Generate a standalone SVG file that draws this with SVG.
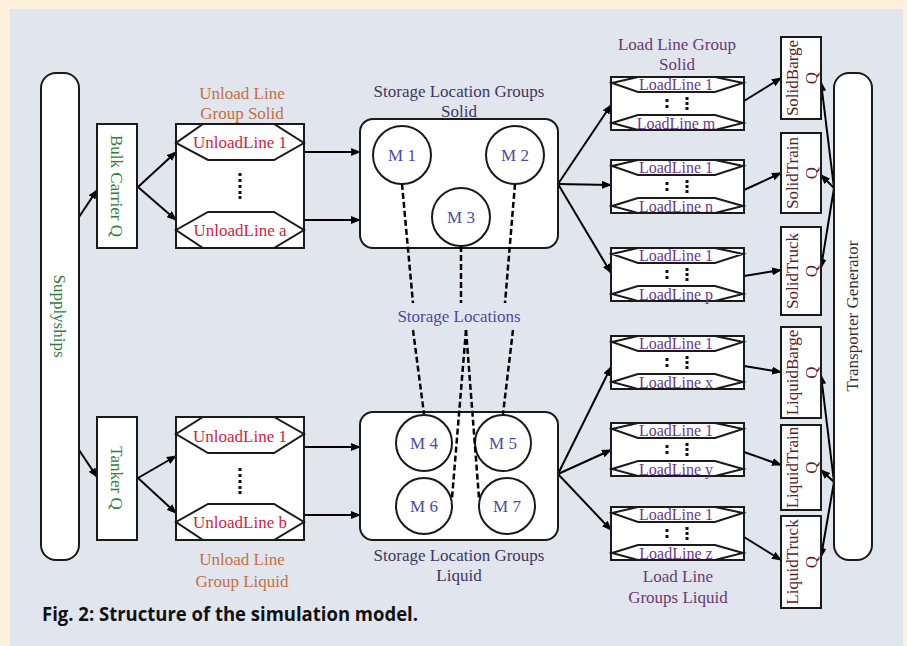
<svg xmlns="http://www.w3.org/2000/svg" width="907" height="646" viewBox="0 0 907 646">
<defs>
<marker id="arr" markerUnits="userSpaceOnUse" markerWidth="10" markerHeight="8" refX="9" refY="4" orient="auto">
<path d="M0,0 L10,4 L0,8 z" fill="#000"/>
</marker>
<style>
text{font-family:"Liberation Serif","Times New Roman",serif;font-size:17px}
.box{fill:#fff;stroke:#1a1a1a;stroke-width:2}
.hex{fill:none;stroke:#1a1a1a;stroke-width:2}
.con{fill:none;stroke:#000;stroke-width:2;marker-end:url(#arr)}
.dash{fill:none;stroke:#000;stroke-width:2.5;stroke-dasharray:6 3}
.green{fill:#2f7d3b}
.orange{fill:#c4703f}
.red{fill:#d01f3c}
.slate{fill:#3d3662}
.mid{fill:#4d4a9e}
.lpurple{fill:#6a3a8c;font-size:16px}
.purple{fill:#6b3a70}
.maroon{fill:#5a2323}
.dark{fill:#333}
.dot{fill:#111}
</style>
</defs>
<rect x="0" y="0" width="907" height="646" fill="#fdf1dc"/>
<rect x="10" y="9" width="893" height="640" fill="#e1e6ee"/>

<g id="connectors">
<line class="con" x1="79" y1="217" x2="97" y2="190"/>
<line class="con" x1="79" y1="450" x2="97" y2="477"/>
<line class="con" x1="138" y1="187" x2="176" y2="152"/>
<line class="con" x1="138" y1="187" x2="176" y2="220"/>
<line class="con" x1="138" y1="478" x2="176" y2="456"/>
<line class="con" x1="138" y1="478" x2="176" y2="513"/>
<line class="con" x1="304" y1="152" x2="360" y2="152"/>
<line class="con" x1="304" y1="220" x2="360" y2="220"/>
<line class="con" x1="304" y1="447" x2="360" y2="447"/>
<line class="con" x1="304" y1="515" x2="360" y2="515"/>
<line class="con" x1="558" y1="184" x2="611" y2="105"/>
<line class="con" x1="558" y1="184" x2="611" y2="185"/>
<line class="con" x1="558" y1="184" x2="611" y2="273"/>
<line class="con" x1="558" y1="474" x2="611" y2="367"/>
<line class="con" x1="558" y1="474" x2="611" y2="450"/>
<line class="con" x1="558" y1="474" x2="611" y2="530"/>
<line class="con" x1="744" y1="101" x2="781" y2="78"/>
<line class="con" x1="744" y1="190" x2="781" y2="173"/>
<line class="con" x1="744" y1="276" x2="781" y2="270"/>
<line class="con" x1="744" y1="366" x2="781" y2="372"/>
<line class="con" x1="744" y1="452" x2="781" y2="465"/>
<line class="con" x1="744" y1="537" x2="781" y2="560"/>
<line class="con" x1="834" y1="188" x2="821" y2="82"/>
<line class="con" x1="834" y1="188" x2="821" y2="175"/>
<line class="con" x1="834" y1="188" x2="821" y2="268"/>
<line class="con" x1="834" y1="482" x2="821" y2="375"/>
<line class="con" x1="834" y1="482" x2="821" y2="470"/>
<line class="con" x1="834" y1="482" x2="821" y2="557"/>
</g>

<g id="supplyships">
<rect class="box" x="41" y="73" width="38" height="487" rx="15"/>
<text class="green" transform="translate(60,316) rotate(90)" text-anchor="middle" y="6">Supplyships</text>
</g>

<g id="bulk-carrier-q">
<rect class="box" x="97" y="124" width="40" height="124"/>
<text class="green" transform="translate(117,186) rotate(90)" text-anchor="middle" y="6">Bulk Carrier Q</text>
</g>

<g id="tanker-q">
<rect class="box" x="97" y="417" width="40" height="123"/>
<text class="green" transform="translate(117,478) rotate(90)" text-anchor="middle" y="6">Tanker Q</text>
</g>

<g id="unload-solid">
<text class="orange" x="242" y="99" text-anchor="middle">Unload Line</text>
<text class="orange" x="242" y="119" text-anchor="middle">Group Solid</text>
<rect class="box" x="176" y="124" width="128" height="124"/>
<polygon class="hex" points="203,124 274,124 304,143 274,160 208,160 176,143"/>
<polygon class="hex" points="208,212 274,212 304,230 274,248 203,248 176,230"/>
<text class="red" x="240" y="148" text-anchor="middle">UnloadLine 1</text>
<text class="red" x="240" y="236" text-anchor="middle">UnloadLine a</text>
<g class="dot"><rect x="238.5" y="173" width="3" height="3"/><rect x="238.5" y="179" width="3" height="3"/><rect x="238.5" y="185" width="3" height="3"/><rect x="238.5" y="191" width="3" height="3"/><rect x="238.5" y="196" width="3" height="3"/></g>
</g>

<g id="unload-liquid">
<rect class="box" x="176" y="417" width="128" height="123"/>
<polygon class="hex" points="203,417 274,417 304,434 274,453 208,453 176,434"/>
<polygon class="hex" points="208,504 274,504 304,522 274,540 203,540 176,522"/>
<text class="red" x="240" y="442" text-anchor="middle">UnloadLine 1</text>
<text class="red" x="240" y="528" text-anchor="middle">UnloadLine b</text>
<g class="dot"><rect x="238.5" y="468" width="3" height="3"/><rect x="238.5" y="474" width="3" height="3"/><rect x="238.5" y="480" width="3" height="3"/><rect x="238.5" y="486" width="3" height="3"/><rect x="238.5" y="491" width="3" height="3"/></g>
<text class="orange" x="242" y="565" text-anchor="middle">Unload Line</text>
<text class="orange" x="242" y="587" text-anchor="middle">Group Liquid</text>
</g>

<g id="storage-solid">
<text class="slate" x="459" y="97" text-anchor="middle">Storage Location Groups</text>
<text class="slate" x="459" y="117" text-anchor="middle">Solid</text>
<rect class="box" x="360" y="119" width="198" height="129" rx="13"/>
<circle class="box" cx="402" cy="155" r="29"/>
<circle class="box" cx="515" cy="155" r="29"/>
<circle class="box" cx="461" cy="217" r="29"/>
<text class="mid" x="402" y="161" text-anchor="middle">M 1</text>
<text class="mid" x="515" y="161" text-anchor="middle">M 2</text>
<text class="mid" x="461" y="223" text-anchor="middle">M 3</text>
</g>

<g id="storage-liquid">
<rect class="box" x="360" y="412" width="198" height="128" rx="13"/>
<circle class="box" cx="424" cy="443" r="28"/>
<circle class="box" cx="503" cy="443" r="28"/>
<circle class="box" cx="424" cy="506" r="28"/>
<circle class="box" cx="507" cy="506" r="28"/>
<text class="mid" x="424" y="449" text-anchor="middle">M 4</text>
<text class="mid" x="503" y="449" text-anchor="middle">M 5</text>
<text class="mid" x="424" y="512" text-anchor="middle">M 6</text>
<text class="mid" x="507" y="512" text-anchor="middle">M 7</text>
<text class="slate" x="459" y="561" text-anchor="middle">Storage Location Groups</text>
<text class="slate" x="459" y="581" text-anchor="middle">Liquid</text>
</g>

<g id="storage-locations">
<line class="dash" x1="402" y1="184" x2="413" y2="303"/>
<line class="dash" x1="413" y1="330" x2="424" y2="414"/>
<line class="dash" x1="461" y1="246" x2="461" y2="303"/>
<line class="dash" x1="466" y1="330" x2="452" y2="498"/>
<line class="dash" x1="466" y1="330" x2="479" y2="498"/>
<line class="dash" x1="515" y1="184" x2="505" y2="303"/>
<line class="dash" x1="513" y1="330" x2="503" y2="414"/>
<text class="mid" x="459" y="322" text-anchor="middle">Storage Locations</text>
</g>

<g id="loadline-group-labels">
<text class="purple" x="677" y="50" text-anchor="middle">Load Line Group</text>
<text class="purple" x="677" y="70" text-anchor="middle">Solid</text>
<text class="purple" x="678" y="582" text-anchor="middle">Load Line</text>
<text class="purple" x="678" y="603" text-anchor="middle">Groups Liquid</text>
</g>

<g id="loadline-m" transform="translate(0,77)">
<rect class="box" x="611" y="0" width="133" height="53"/>
<polygon class="hex" points="638,0 715,0 743,6 715,15 638,15 612,6"/>
<polygon class="hex" points="638,38 715,38 743,46 715,53 638,53 612,46"/>
<text class="lpurple" x="676" y="13" text-anchor="middle">LoadLine 1</text>
<text class="lpurple" x="676" y="52" text-anchor="middle">LoadLine m</text>
<g class="dot"><rect x="665.5" y="22" width="3" height="3"/><rect x="665.5" y="28" width="3" height="3"/><rect x="685.5" y="20" width="3" height="3"/><rect x="685.5" y="25" width="3" height="3"/><rect x="685.5" y="30" width="3" height="3"/></g>
</g>

<g id="loadline-n" transform="translate(0,160)">
<rect class="box" x="611" y="0" width="133" height="53"/>
<polygon class="hex" points="638,0 715,0 743,6 715,15 638,15 612,6"/>
<polygon class="hex" points="638,38 715,38 743,46 715,53 638,53 612,46"/>
<text class="lpurple" x="676" y="13" text-anchor="middle">LoadLine 1</text>
<text class="lpurple" x="676" y="52" text-anchor="middle">LoadLine n</text>
<g class="dot"><rect x="665.5" y="22" width="3" height="3"/><rect x="665.5" y="28" width="3" height="3"/><rect x="685.5" y="20" width="3" height="3"/><rect x="685.5" y="25" width="3" height="3"/><rect x="685.5" y="30" width="3" height="3"/></g>
</g>

<g id="loadline-p" transform="translate(0,248)">
<rect class="box" x="611" y="0" width="133" height="53"/>
<polygon class="hex" points="638,0 715,0 743,6 715,15 638,15 612,6"/>
<polygon class="hex" points="638,38 715,38 743,46 715,53 638,53 612,46"/>
<text class="lpurple" x="676" y="13" text-anchor="middle">LoadLine 1</text>
<text class="lpurple" x="676" y="52" text-anchor="middle">LoadLine p</text>
<g class="dot"><rect x="665.5" y="22" width="3" height="3"/><rect x="665.5" y="28" width="3" height="3"/><rect x="685.5" y="20" width="3" height="3"/><rect x="685.5" y="25" width="3" height="3"/><rect x="685.5" y="30" width="3" height="3"/></g>
</g>

<g id="loadline-x" transform="translate(0,336)">
<rect class="box" x="611" y="0" width="133" height="53"/>
<polygon class="hex" points="638,0 715,0 743,6 715,15 638,15 612,6"/>
<polygon class="hex" points="638,38 715,38 743,46 715,53 638,53 612,46"/>
<text class="lpurple" x="676" y="13" text-anchor="middle">LoadLine 1</text>
<text class="lpurple" x="676" y="52" text-anchor="middle">LoadLine x</text>
<g class="dot"><rect x="665.5" y="22" width="3" height="3"/><rect x="665.5" y="28" width="3" height="3"/><rect x="685.5" y="20" width="3" height="3"/><rect x="685.5" y="25" width="3" height="3"/><rect x="685.5" y="30" width="3" height="3"/></g>
</g>

<g id="loadline-y" transform="translate(0,423)">
<rect class="box" x="611" y="0" width="133" height="53"/>
<polygon class="hex" points="638,0 715,0 743,6 715,15 638,15 612,6"/>
<polygon class="hex" points="638,38 715,38 743,46 715,53 638,53 612,46"/>
<text class="lpurple" x="676" y="13" text-anchor="middle">LoadLine 1</text>
<text class="lpurple" x="676" y="52" text-anchor="middle">LoadLine y</text>
<g class="dot"><rect x="665.5" y="22" width="3" height="3"/><rect x="665.5" y="28" width="3" height="3"/><rect x="685.5" y="20" width="3" height="3"/><rect x="685.5" y="25" width="3" height="3"/><rect x="685.5" y="30" width="3" height="3"/></g>
</g>

<g id="loadline-z" transform="translate(0,507)">
<rect class="box" x="611" y="0" width="133" height="53"/>
<polygon class="hex" points="638,0 715,0 743,6 715,15 638,15 612,6"/>
<polygon class="hex" points="638,38 715,38 743,46 715,53 638,53 612,46"/>
<text class="lpurple" x="676" y="13" text-anchor="middle">LoadLine 1</text>
<text class="lpurple" x="676" y="52" text-anchor="middle">LoadLine z</text>
<g class="dot"><rect x="665.5" y="22" width="3" height="3"/><rect x="665.5" y="28" width="3" height="3"/><rect x="685.5" y="20" width="3" height="3"/><rect x="685.5" y="25" width="3" height="3"/><rect x="685.5" y="30" width="3" height="3"/></g>
</g>

<g id="solidbarge-q">
<rect class="box" x="781" y="37" width="40" height="82"/>
<text class="maroon" transform="translate(801,78) rotate(-90)" text-anchor="middle"><tspan x="0" y="-3">SolidBarge</tspan><tspan x="0" y="16">Q</tspan></text>
</g>
<g id="solidtrain-q">
<rect class="box" x="781" y="133" width="40" height="80"/>
<text class="maroon" transform="translate(801,173) rotate(-90)" text-anchor="middle"><tspan x="0" y="-3">SolidTrain</tspan><tspan x="0" y="16">Q</tspan></text>
</g>
<g id="solidtruck-q">
<rect class="box" x="781" y="227" width="40" height="88"/>
<text class="maroon" transform="translate(801,271) rotate(-90)" text-anchor="middle"><tspan x="0" y="-3">SolidTruck</tspan><tspan x="0" y="16">Q</tspan></text>
</g>
<g id="liquidbarge-q">
<rect class="box" x="781" y="327" width="40" height="91"/>
<text class="maroon" transform="translate(801,372.5) rotate(-90)" text-anchor="middle"><tspan x="0" y="-3">LiquidBarge</tspan><tspan x="0" y="16">Q</tspan></text>
</g>
<g id="liquidtrain-q">
<rect class="box" x="781" y="425" width="40" height="85"/>
<text class="maroon" transform="translate(801,467.5) rotate(-90)" text-anchor="middle"><tspan x="0" y="-3">LiquidTrain</tspan><tspan x="0" y="16">Q</tspan></text>
</g>
<g id="liquidtruck-q">
<rect class="box" x="781" y="516" width="40" height="92"/>
<text class="maroon" transform="translate(801,562) rotate(-90)" text-anchor="middle"><tspan x="0" y="-3">LiquidTruck</tspan><tspan x="0" y="16">Q</tspan></text>
</g>

<g id="transporter-generator">
<rect class="box" x="834" y="73" width="38" height="487" rx="15"/>
<text class="dark" transform="translate(853,316) rotate(-90)" text-anchor="middle" y="5">Transporter Generator</text>
</g>

<text x="42" y="621" style="font-family:'Open Sans','Noto Sans',sans-serif;font-weight:bold;font-size:20px;fill:#111" textLength="376" lengthAdjust="spacingAndGlyphs">Fig. 2: Structure of the simulation model.</text>
</svg>
